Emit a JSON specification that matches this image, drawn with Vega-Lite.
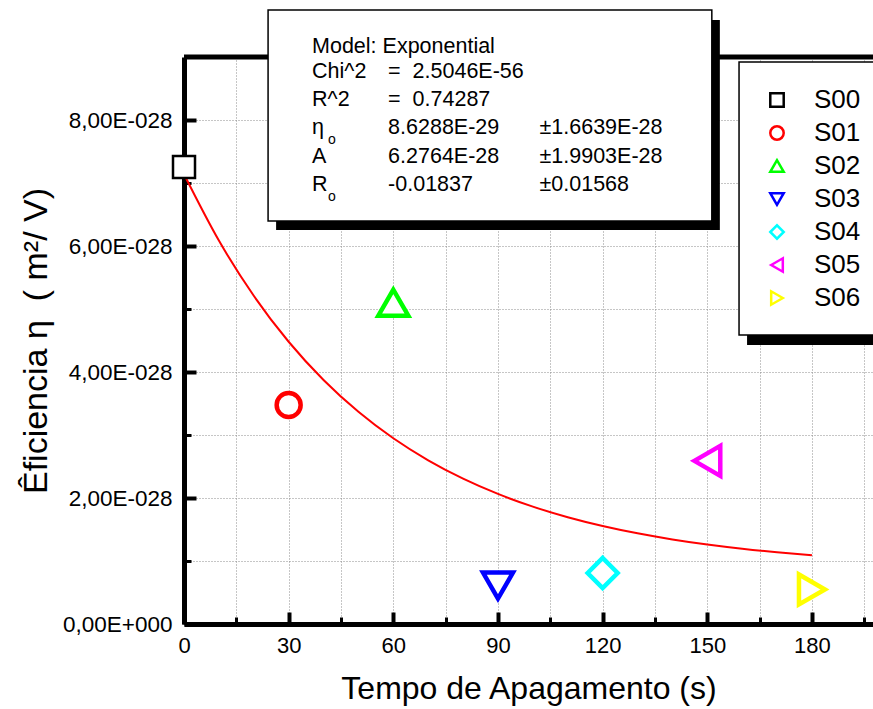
{
  "$schema": "https://vega.github.io/schema/vega-lite/v6.json",
  "width": 689,
  "height": 567,
  "autosize": "none",
  "padding": {"left": 184, "top": 57, "right": 0, "bottom": 85},
  "background": "white",
  "config": {
    "font": "Liberation Sans",
    "view": {"stroke": null},
    "text": {"align": "left", "baseline": "middle", "fontSize": 21.5, "color": "black"},
    "legend": {
      "orient": "none",
      "legendX": 580,
      "legendY": 30,
      "padding": 0,
      "labelFontSize": 26,
      "labelColor": "black",
      "labelOffset": 24,
      "symbolSize": 180,
      "symbolStrokeWidth": 2.5,
      "rowPadding": 7
    }
  },
  "datasets": {
    "amostras": [
      {"tempo": 0, "eficiencia": 7.254e-28, "amostra": "S00"},
      {"tempo": 30, "eficiencia": 3.476e-28, "amostra": "S01"},
      {"tempo": 60, "eficiencia": 5.1e-28, "amostra": "S02"},
      {"tempo": 90, "eficiencia": 0.61e-28, "amostra": "S03"},
      {"tempo": 120, "eficiencia": 0.81e-28, "amostra": "S04"},
      {"tempo": 150, "eficiencia": 2.59e-28, "amostra": "S05"},
      {"tempo": 180, "eficiencia": 0.548e-28, "amostra": "S06"}
    ],
    "ajuste": [
      {"tempo": 0, "eficiencia": 7.1393e-28},
      {"tempo": 10, "eficiencia": 6.0860e-28},
      {"tempo": 20, "eficiencia": 5.2096e-28},
      {"tempo": 30, "eficiencia": 4.4801e-28},
      {"tempo": 40, "eficiencia": 3.8732e-28},
      {"tempo": 50, "eficiencia": 3.3680e-28},
      {"tempo": 60, "eficiencia": 2.9477e-28},
      {"tempo": 70, "eficiencia": 2.5979e-28},
      {"tempo": 80, "eficiencia": 2.3067e-28},
      {"tempo": 90, "eficiencia": 2.0644e-28},
      {"tempo": 100, "eficiencia": 1.8628e-28},
      {"tempo": 110, "eficiencia": 1.6950e-28},
      {"tempo": 120, "eficiencia": 1.5554e-28},
      {"tempo": 130, "eficiencia": 1.4392e-28},
      {"tempo": 140, "eficiencia": 1.3425e-28},
      {"tempo": 150, "eficiencia": 1.2620e-28},
      {"tempo": 160, "eficiencia": 1.1950e-28},
      {"tempo": 170, "eficiencia": 1.1393e-28},
      {"tempo": 180, "eficiencia": 1.0929e-28}
    ]
  },
  "layer": [
    {
      "data": {"name": "ajuste"},
      "mark": {"type": "line", "color": "#ff0000", "strokeWidth": 2, "interpolate": "monotone"},
      "encoding": {
        "x": {
          "field": "tempo",
          "type": "quantitative",
          "scale": {"domain": [0, 197.5], "nice": false, "zero": false},
          "axis": {
            "title": "Tempo de Apagamento (s)",
            "values": [0, 15, 30, 45, 60, 75, 90, 105, 120, 135, 150, 165, 180, 195],
            "labelExpr": "datum.value % 30 === 0 ? datum.label : ''",
            "labelFlush": false,
            "labelOverlap": false,
            "labelFontSize": 22,
            "labelColor": "black",
            "labelPadding": 23,
            "domainColor": "black",
            "domainWidth": 5,
            "tickColor": "black",
            "tickSize": {"condition": {"test": "datum.value % 30 === 0", "value": -12}, "value": -7},
            "tickWidth": {"condition": {"test": "datum.value % 30 === 0", "value": 4}, "value": 3},
            "grid": true,
            "gridColor": "#8c8c8c",
            "gridDash": [1, 2],
            "gridWidth": 1,
            "titleFontSize": 32,
            "titleFontWeight": "normal",
            "titleColor": "black",
            "titlePadding": 12
          }
        },
        "y": {
          "field": "eficiencia",
          "type": "quantitative",
          "scale": {"domain": [0, 9e-28], "nice": false, "zero": false},
          "axis": {
            "title": "Êficiencia η\u00a0\u00a0(\u00a0m²/\u00a0V)",
            "values": [0, 1e-28, 2e-28, 3e-28, 4e-28, 5e-28, 6e-28, 7e-28, 8e-28],
            "labelExpr": "round(datum.value * 1e28) % 2 === 0 ? (datum.value === 0 ? '0,00E+000' : replace(format(datum.value * 1e28, '.2f'), '.', ',') + 'E-028') : ''",
            "labelFlush": false,
            "labelOverlap": false,
            "labelFontSize": 22.5,
            "labelColor": "black",
            "labelPadding": 24,
            "domainColor": "black",
            "domainWidth": 5,
            "tickColor": "black",
            "tickSize": {"condition": {"test": "round(datum.value * 1e28) % 2 === 0", "value": -12}, "value": -7},
            "tickWidth": {"condition": {"test": "round(datum.value * 1e28) % 2 === 0", "value": 4}, "value": 3},
            "grid": true,
            "gridColor": "#8c8c8c",
            "gridDash": [1, 2],
            "gridWidth": 1,
            "titleFontSize": 34,
            "titleFontWeight": "normal",
            "titleColor": "black",
            "titlePadding": 9
          }
        }
      }
    },
    {
      "data": {"values": [{}]},
      "mark": {"type": "rule", "color": "black", "strokeWidth": 5},
      "encoding": {"y": {"datum": 9e-28, "type": "quantitative"}}
    },
    {
      "data": {"name": "amostras"},
      "mark": {"type": "point", "filled": false, "fill": "white", "fillOpacity": 1, "opacity": 1},
      "encoding": {
        "x": {"field": "tempo", "type": "quantitative"},
        "y": {"field": "eficiencia", "type": "quantitative"},
        "color": {
          "field": "amostra",
          "type": "nominal",
          "scale": {
            "domain": ["S00", "S01", "S02", "S03", "S04", "S05", "S06"],
            "range": ["#000000", "#ff0000", "#00ff00", "#0000ff", "#00ffff", "#ff00ff", "#ffff00"]
          },
          "legend": {"title": null}
        },
        "shape": {
          "field": "amostra",
          "type": "nominal",
          "scale": {
            "domain": ["S00", "S01", "S02", "S03", "S04", "S05", "S06"],
            "range": ["square", "circle", "triangle-up", "triangle-down", "diamond", "triangle-left", "triangle-right"]
          },
          "legend": {"title": null}
        },
        "size": {
          "condition": [
            {"test": "datum.amostra === 'S00'", "value": 484},
            {"test": "datum.amostra === 'S01'", "value": 576}
          ],
          "value": 900
        },
        "strokeWidth": {
          "condition": {"test": "datum.amostra === 'S00'", "value": 2.5},
          "value": 4.5
        }
      }
    },
    {
      "data": {"values": [{}]},
      "mark": {"type": "rect", "fill": "black"},
      "encoding": {
        "x": {"datum": 26.4, "type": "quantitative"},
        "x2": {"datum": 153.6},
        "y": {"datum": 9.587e-28, "type": "quantitative"},
        "y2": {"datum": 6.254e-28}
      }
    },
    {
      "data": {"values": [{}]},
      "mark": {"type": "rect", "fill": "white", "stroke": "black", "strokeWidth": 1.5},
      "encoding": {
        "x": {"datum": 24.1, "type": "quantitative"},
        "x2": {"datum": 151.3},
        "y": {"datum": 9.746e-28, "type": "quantitative"},
        "y2": {"datum": 6.397e-28}
      }
    },
    {"data": {"values": [{}]}, "mark": {"type": "text", "text": "Model: Exponential"},
     "encoding": {"x": {"datum": 36.7, "type": "quantitative"}, "y": {"datum": 9.159e-28, "type": "quantitative"}}},
    {"data": {"values": [{}]}, "mark": {"type": "text", "text": "Chi^2"},
     "encoding": {"x": {"datum": 36.7, "type": "quantitative"}, "y": {"datum": 8.762e-28, "type": "quantitative"}}},
    {"data": {"values": [{}]}, "mark": {"type": "text", "text": "R^2"},
     "encoding": {"x": {"datum": 36.7, "type": "quantitative"}, "y": {"datum": 8.317e-28, "type": "quantitative"}}},
    {"data": {"values": [{}]}, "mark": {"type": "text", "text": "η"},
     "encoding": {"x": {"datum": 36.7, "type": "quantitative"}, "y": {"datum": 7.873e-28, "type": "quantitative"}}},
    {"data": {"values": [{}]}, "mark": {"type": "text", "text": "A"},
     "encoding": {"x": {"datum": 36.7, "type": "quantitative"}, "y": {"datum": 7.413e-28, "type": "quantitative"}}},
    {"data": {"values": [{}]}, "mark": {"type": "text", "text": "R"},
     "encoding": {"x": {"datum": 36.7, "type": "quantitative"}, "y": {"datum": 6.968e-28, "type": "quantitative"}}},
    {"data": {"values": [{}]}, "mark": {"type": "text", "text": "o", "fontSize": 14},
     "encoding": {"x": {"datum": 41.3, "type": "quantitative"}, "y": {"datum": 7.683e-28, "type": "quantitative"}}},
    {"data": {"values": [{}]}, "mark": {"type": "text", "text": "o", "fontSize": 14},
     "encoding": {"x": {"datum": 41.3, "type": "quantitative"}, "y": {"datum": 6.778e-28, "type": "quantitative"}}},
    {"data": {"values": [{}]}, "mark": {"type": "text", "text": "=\u00a0\u00a02.5046E-56"},
     "encoding": {"x": {"datum": 58.5, "type": "quantitative"}, "y": {"datum": 8.762e-28, "type": "quantitative"}}},
    {"data": {"values": [{}]}, "mark": {"type": "text", "text": "=\u00a0\u00a00.74287"},
     "encoding": {"x": {"datum": 58.5, "type": "quantitative"}, "y": {"datum": 8.317e-28, "type": "quantitative"}}},
    {"data": {"values": [{}]}, "mark": {"type": "text", "text": "8.6288E-29"},
     "encoding": {"x": {"datum": 58.5, "type": "quantitative"}, "y": {"datum": 7.873e-28, "type": "quantitative"}}},
    {"data": {"values": [{}]}, "mark": {"type": "text", "text": "6.2764E-28"},
     "encoding": {"x": {"datum": 58.5, "type": "quantitative"}, "y": {"datum": 7.413e-28, "type": "quantitative"}}},
    {"data": {"values": [{}]}, "mark": {"type": "text", "text": "-0.01837"},
     "encoding": {"x": {"datum": 58.5, "type": "quantitative"}, "y": {"datum": 6.968e-28, "type": "quantitative"}}},
    {"data": {"values": [{}]}, "mark": {"type": "text", "text": "±1.6639E-28"},
     "encoding": {"x": {"datum": 101.9, "type": "quantitative"}, "y": {"datum": 7.873e-28, "type": "quantitative"}}},
    {"data": {"values": [{}]}, "mark": {"type": "text", "text": "±1.9903E-28"},
     "encoding": {"x": {"datum": 101.9, "type": "quantitative"}, "y": {"datum": 7.413e-28, "type": "quantitative"}}},
    {"data": {"values": [{}]}, "mark": {"type": "text", "text": "±0.01568"},
     "encoding": {"x": {"datum": 101.9, "type": "quantitative"}, "y": {"datum": 6.968e-28, "type": "quantitative"}}},
    {
      "data": {"values": [{}]},
      "mark": {"type": "rect", "fill": "black"},
      "encoding": {
        "x": {"datum": 161.4, "type": "quantitative"},
        "x2": {"datum": 197.5},
        "y": {"datum": 8.7e-28, "type": "quantitative"},
        "y2": {"datum": 4.43e-28}
      }
    },
    {
      "data": {"values": [{}]},
      "mark": {"type": "rect", "fill": "white", "stroke": "black", "strokeWidth": 1.5},
      "encoding": {
        "x": {"datum": 159.1, "type": "quantitative"},
        "x2": {"datum": 199},
        "y": {"datum": 8.92e-28, "type": "quantitative"},
        "y2": {"datum": 4.587e-28}
      }
    }
  ]
}
